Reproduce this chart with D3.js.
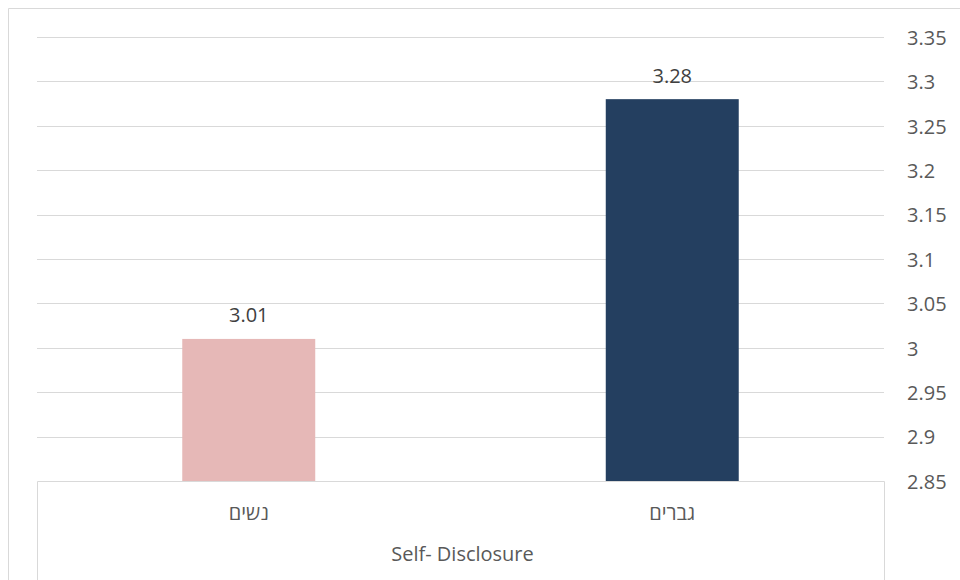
<!DOCTYPE html>
<html>
<head>
<meta charset="utf-8">
<script src="https://cdn.jsdelivr.net/npm/d3@7"></script>
<style>
  html, body { margin: 0; padding: 0; background: #fff; }
  svg { display: block; }
  text { font-family: "Open Sans", "Noto Sans", sans-serif; }
</style>
</head>
<body>
<svg id="chart" width="960" height="580"></svg>
<script>
// Mean self-disclosure score by gender
const categories = ["נשים", "גברים"];
const values = [3.01, 3.28];
const barColors = ["#E6B8B7", "#243F60"];
const yTicks = [2.85, 2.9, 2.95, 3, 3.05, 3.1, 3.15, 3.2, 3.25, 3.3, 3.35];
const groupTitle = "Self- Disclosure";

const svg = d3.select("#chart");
const W = 960, H = 580;
const plot = { left: 37, right: 884, top: 37, bottom: 481 };

// chart area frame (runs off the page on the right and bottom)
svg.append("path")
  .attr("d", `M8.5,${H} V8.5 H${W}`)
  .attr("fill", "none")
  .attr("stroke", "#D9D9D9")
  .attr("stroke-width", 1);

const x = d3.scaleBand()
  .domain(categories)
  .range([plot.left, plot.right])
  .paddingInner(0)
  .paddingOuter(0);

const y = d3.scaleLinear()
  .domain([2.85, 3.35])
  .range([plot.bottom, plot.top]);

// horizontal gridlines
svg.append("g")
  .selectAll("line")
  .data(yTicks.filter(t => t > 2.85))
  .join("line")
  .attr("x1", plot.left)
  .attr("x2", plot.right)
  .attr("y1", d => Math.round(y(d)) + 0.5)
  .attr("y2", d => Math.round(y(d)) + 0.5)
  .attr("stroke", "#D9D9D9")
  .attr("stroke-width", 1);

// value axis on the right
const yAxis = d3.axisRight(y)
  .tickValues(yTicks)
  .tickSize(0)
  .tickPadding(23)
  .tickFormat(d => String(+d.toFixed(2)));

const yG = svg.append("g")
  .attr("transform", `translate(${plot.right},0)`)
  .call(yAxis);
yG.select(".domain").remove();
yG.selectAll("text")
  .attr("fill", "#595959")
  .attr("dy", "0.36em")
  .style("font-size", "20px");

// bars
const barW = x.bandwidth() * 0.314;
svg.append("g")
  .selectAll("rect")
  .data(categories)
  .join("rect")
  .attr("x", d => x(d) + x.bandwidth() / 2 - barW / 2)
  .attr("width", barW)
  .attr("y", (d, i) => y(values[i]))
  .attr("height", (d, i) => y.range()[0] - y(values[i]))
  .attr("fill", (d, i) => barColors[i]);

// value labels
svg.append("g")
  .selectAll("text")
  .data(categories)
  .join("text")
  .attr("x", d => x(d) + x.bandwidth() / 2)
  .attr("y", (d, i) => y(values[i]) - 16.5)
  .attr("text-anchor", "middle")
  .attr("fill", "#404040")
  .style("font-size", "20px")
  .text((d, i) => values[i].toFixed(2));

// category axis box
svg.append("path")
  .attr("d", `M${plot.left + 0.5},${H} V${plot.bottom + 0.5} H${plot.right + 0.5} V${H}`)
  .attr("fill", "none")
  .attr("stroke", "#D9D9D9");

// category labels
svg.append("g")
  .selectAll("text")
  .data(categories)
  .join("text")
  .attr("x", d => x(d) + x.bandwidth() / 2)
  .attr("y", 520)
  .attr("text-anchor", "middle")
  .attr("fill", "#595959")
  .style("font-size", "20px")
  .text(d => d);

// group title
svg.append("text")
  .attr("x", (plot.left + plot.right) / 2 + 2)
  .attr("y", 561)
  .attr("text-anchor", "middle")
  .attr("fill", "#595959")
  .style("font-size", "20px")
  .text(groupTitle);
</script>
</body>
</html>
